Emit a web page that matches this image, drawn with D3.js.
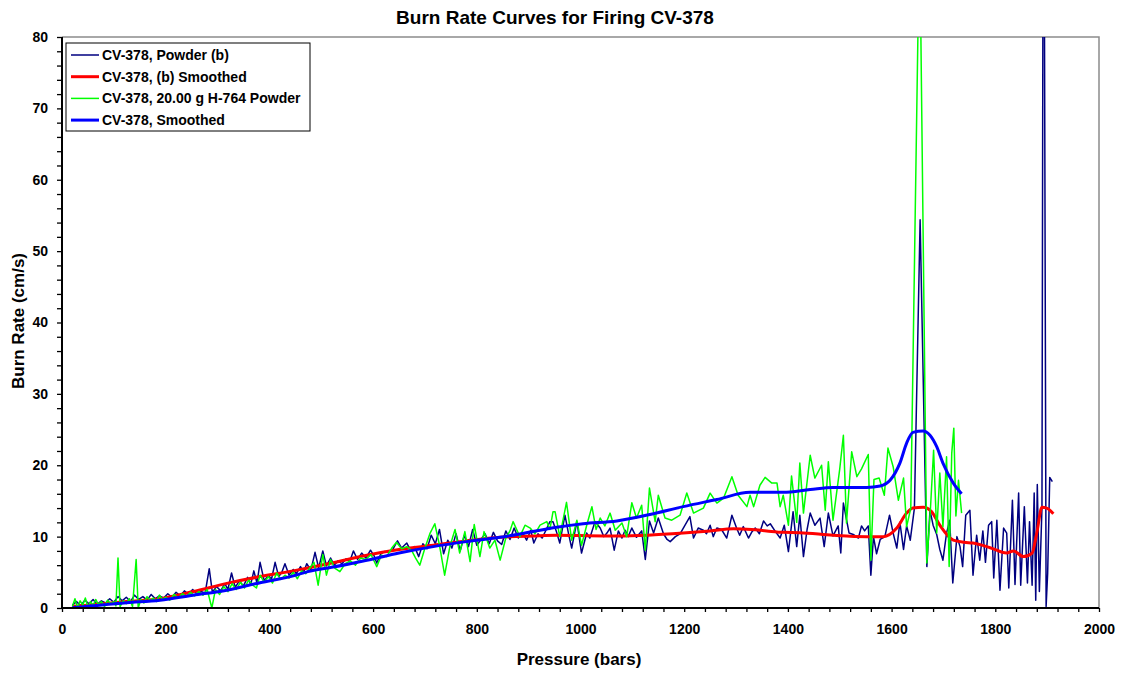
<!DOCTYPE html>
<html><head><meta charset="utf-8">
<script src="https://cdn.jsdelivr.net/npm/d3@7"></script>
<style>
body{margin:0;background:#fff;}
text{font-family:"Liberation Sans",Arial,sans-serif;font-weight:bold;}
</style></head><body>
<svg id="c" width="1126" height="673"></svg>
<script>
const title = "Burn Rate Curves for Firing CV-378";
const xLabel = "Pressure (bars)";
const yLabel = "Burn Rate (cm/s)";
const xTicks = [0,200,400,600,800,1000,1200,1400,1600,1800,2000];
const yTicks = [0,10,20,30,40,50,60,70,80];
const seriesNames = ["CV-378, Powder (b)","CV-378, (b) Smoothed","CV-378, 20.00 g H-764 Powder","CV-378, Smoothed"];

const powderB = [[20,0.4],[28,0.9],[36,0.3],[44,1.1],[52,0.6],[60,1.2],[68,0.5],[76,1.0],[84,0.7],[92,1.3],[100,0.8],[108,1.6],[116,1.0],[124,1.5],[132,0.9],[140,1.8],[148,1.2],[156,1.6],[164,1.1],[172,1.9],[180,1.3],[188,1.7],[196,1.4],[204,2.0],[212,1.5],[220,2.2],[228,1.7],[236,2.4],[244,1.9],[252,2.6],[260,2.0],[268,2.3],[276,2.1],[284,5.5],[290,2.2],[298,3.0],[306,2.4],[314,3.4],[320,2.6],[327,4.9],[334,2.9],[342,3.8],[350,3.1],[358,4.3],[364,3.3],[370,5.2],[376,3.5],[382,6.4],[390,3.8],[398,4.6],[404,4.0],[411,6.4],[418,4.4],[424,5.0],[430,6.2],[438,4.6],[446,5.4],[452,4.8],[460,5.8],[466,5.0],[472,6.2],[480,5.3],[488,7.8],[495,5.6],[503,8.0],[510,5.9],[518,7.0],[525,6.0],[532,6.6],[540,6.2],[548,6.9],[555,6.5],[562,8.0],[570,6.8],[578,7.7],[586,7.0],[595,8.1],[602,7.3],[607,6.3],[615,7.6],[622,7.9],[630,7.8],[638,8.2],[647,9.4],[655,8.4],[665,9.1],[672,8.1],[680,8.6],[688,7.2],[696,9.0],[704,8.3],[712,10.2],[720,9.0],[728,11.0],[736,7.6],[744,9.5],[752,8.4],[760,10.4],[768,8.0],[776,10.2],[784,8.6],[792,11.0],[800,8.8],[808,9.6],[816,10.4],[824,9.0],[832,10.6],[840,9.4],[848,8.9],[856,10.8],[864,9.6],[872,11.2],[880,9.8],[888,10.6],[896,9.5],[904,10.9],[910,9.1],[918,10.4],[926,9.8],[934,11.0],[941,12.1],[947,12.1],[954,10.6],[960,9.1],[970,13.0],[977,10.4],[983,8.4],[993,12.1],[1002,7.7],[1012,10.5],[1018,9.8],[1028,12.1],[1038,11.2],[1045,10.0],[1051,10.5],[1057,11.2],[1065,8.1],[1073,10.8],[1080,9.8],[1086,10.9],[1092,10.0],[1099,11.2],[1108,9.9],[1118,10.8],[1125,6.8],[1133,12.2],[1141,10.5],[1150,12.6],[1160,10.4],[1167,9.6],[1173,9.3],[1183,10.0],[1192,10.4],[1200,11.4],[1211,12.8],[1218,9.8],[1227,11.2],[1237,10.9],[1243,10.4],[1250,11.6],[1256,10.0],[1263,11.2],[1272,11.0],[1282,9.8],[1292,13.0],[1301,11.2],[1307,10.2],[1314,11.4],[1324,9.8],[1330,10.6],[1337,11.2],[1345,10.4],[1353,12.2],[1360,11.5],[1366,11.8],[1375,10.8],[1385,9.8],[1393,11.6],[1401,7.9],[1410,13.5],[1417,8.6],[1423,13.0],[1430,7.2],[1437,11.0],[1443,13.3],[1452,11.6],[1462,12.6],[1470,8.6],[1478,13.3],[1487,10.1],[1497,11.5],[1502,7.7],[1507,14.7],[1518,10.5],[1526,10.3],[1536,9.8],[1542,11.5],[1548,10.8],[1555,11.5],[1560,4.6],[1565,10.0],[1571,7.6],[1578,9.6],[1587,10.0],[1596,13.0],[1603,10.5],[1610,8.4],[1616,12.0],[1623,8.2],[1629,11.5],[1636,9.5],[1644,14.0],[1655,54.4],[1668,5.8],[1674,13.7],[1680,11.6],[1687,10.3],[1693,8.2],[1699,6.7],[1706,10.5],[1712,12.3],[1718,3.5],[1726,10.0],[1732,8.6],[1737,5.8],[1743,13.0],[1751,13.7],[1757,4.6],[1764,10.2],[1770,6.7],[1776,10.8],[1781,6.4],[1787,11.6],[1793,12.1],[1797,4.2],[1803,12.3],[1809,2.5],[1816,11.2],[1822,10.5],[1826,2.8],[1833,15.1],[1838,3.3],[1845,16.1],[1849,3.2],[1856,14.2],[1862,3.5],[1866,12.1],[1871,3.2],[1875,16.1],[1878,1.1],[1881,17.3],[1885,2.3],[1890,14.0],[1893,130],[1898,0.2],[1901,4.9],[1905,18.3],[1910,17.7]];

const powderBSmoothed = [[20,0.2],[60,0.45],[125,0.9],[189,1.3],[253,2.3],[318,3.45],[382,4.4],[446,5.2],[474,5.6],[520,6.3],[588,7.4],[650,8.2],[716,8.8],[780,9.4],[845,9.9],[909,10.1],[954,10.2],[1000,10.15],[1070,10.1],[1130,10.2],[1198,10.5],[1250,10.8],[1295,11.1],[1330,11.0],[1359,10.8],[1391,10.6],[1423,10.55],[1487,10.2],[1552,10.0],[1584,10.0],[1610,11.2],[1629,13.3],[1641,14.0],[1661,14.1],[1677,13.5],[1693,11.6],[1719,9.5],[1740,9.2],[1757,9.1],[1790,8.45],[1822,7.7],[1835,8.0],[1854,7.2],[1871,7.7],[1880,10.5],[1890,14.1],[1899,14.0],[1912,13.2]];

const h764 = [[20,0.2],[25,1.3],[30,0.0],[35,1.0],[40,0.4],[45,1.4],[50,0.1],[55,0.9],[60,0.3],[65,1.2],[70,0.5],[76,0.9],[82,0.2],[88,1.1],[94,0.6],[100,0.9],[104,0.3],[108,7.0],[112,0.2],[118,1.0],[124,0.6],[130,1.3],[136,0.2],[143,6.8],[147,0.0],[152,1.2],[158,0.7],[164,1.6],[170,1.0],[176,1.4],[182,0.9],[188,1.8],[194,1.2],[200,1.5],[208,1.1],[216,1.9],[224,1.4],[232,2.0],[240,1.6],[248,2.2],[256,1.7],[264,2.3],[272,1.8],[280,2.6],[289,0.0],[296,2.6],[304,1.9],[312,3.0],[320,2.3],[328,3.4],[336,2.6],[344,3.6],[352,2.8],[360,3.9],[368,3.2],[375,2.8],[382,4.6],[390,3.6],[398,4.4],[406,3.5],[414,4.9],[422,4.0],[430,4.6],[438,4.2],[446,5.0],[454,4.1],[462,5.2],[470,4.8],[478,5.6],[486,6.4],[494,3.2],[503,7.5],[510,4.6],[518,6.8],[526,5.6],[536,5.1],[546,6.2],[556,6.6],[566,6.0],[576,7.0],[586,6.8],[596,7.5],[607,5.8],[616,7.4],[626,7.2],[636,8.4],[645,9.2],[655,8.3],[665,8.6],[674,8.1],[682,7.0],[690,6.0],[700,8.4],[710,10.5],[719,11.8],[728,8.8],[738,4.6],[748,8.6],[758,11.0],[767,7.7],[777,10.7],[787,6.5],[795,11.7],[806,7.2],[814,10.7],[825,8.4],[835,9.5],[845,6.7],[856,9.8],[864,10.8],[870,12.1],[883,10.0],[893,11.6],[903,11.2],[912,10.4],[922,11.6],[935,12.1],[941,11.0],[947,13.5],[951,13.5],[960,10.0],[973,14.8],[983,9.5],[993,12.3],[1002,8.8],[1012,11.6],[1022,14.2],[1030,11.0],[1038,12.6],[1047,11.5],[1057,13.3],[1067,10.9],[1080,11.9],[1089,10.0],[1099,14.75],[1108,12.6],[1118,14.4],[1125,8.1],[1133,16.8],[1144,12.1],[1150,15.8],[1163,12.6],[1176,12.3],[1192,13.0],[1205,16.1],[1218,13.3],[1237,14.0],[1250,16.1],[1263,14.7],[1276,15.4],[1292,18.4],[1304,15.8],[1321,14.2],[1327,15.8],[1334,14.2],[1346,17.2],[1356,18.3],[1369,17.5],[1379,17.5],[1385,14.2],[1391,15.8],[1401,11.6],[1407,18.5],[1417,12.0],[1423,20.3],[1430,13.3],[1443,21.4],[1452,18.2],[1465,20.0],[1472,13.7],[1478,20.5],[1487,12.3],[1500,19.5],[1507,24.2],[1513,11.9],[1523,21.9],[1533,18.4],[1542,19.5],[1555,21.5],[1560,6.7],[1566,18.0],[1576,18.2],[1586,15.8],[1593,22.4],[1603,19.8],[1613,15.1],[1623,18.2],[1629,11.4],[1637,14.0],[1654,96],[1668,6.3],[1675,14.0],[1681,22.1],[1687,10.5],[1693,18.9],[1699,11.4],[1706,21.2],[1711,5.8],[1716,21.7],[1720,25.2],[1724,12.9],[1729,17.9],[1735,13.3]];

const h764Smoothed = [[20,0.05],[125,0.75],[189,1.1],[253,1.8],[318,2.5],[382,3.55],[446,4.5],[474,5.1],[520,5.7],[588,6.7],[650,7.7],[716,8.6],[780,9.3],[845,9.9],[900,10.6],[954,11.3],[1005,11.8],[1070,12.2],[1134,13.1],[1198,14.2],[1263,15.2],[1327,16.2],[1391,16.2],[1443,16.6],[1487,16.9],[1552,16.9],[1578,17.1],[1597,17.9],[1616,20.3],[1629,23.1],[1641,24.6],[1661,24.8],[1674,24.2],[1687,22.6],[1699,20.3],[1719,17.5],[1735,16.0]];

const colors = ["#000080","#ff0000","#00ff00","#0000ff"];
const widths = [1.5,3,1.5,3];

const svg = d3.select("#c");
const L=62,R=1099,T=37,B=608;
const x = d3.scaleLinear().domain([0,2000]).range([L,R]);
const y = d3.scaleLinear().domain([0,80]).range([B,T]);

svg.append("defs").append("clipPath").attr("id","clip")
  .append("rect").attr("x",L).attr("y",T).attr("width",R-L).attr("height",B-T);

svg.append("path").attr("d",`M${L},${T}H${R}V${B}`).attr("fill","none").attr("stroke","#8c8c8c").attr("stroke-width",1.5);

const g = svg.append("g").attr("clip-path","url(#clip)");
const lin = d3.line().x(d=>x(d[0])).y(d=>y(d[1]));
const smooth = d3.line().x(d=>x(d[0])).y(d=>y(d[1])).curve(d3.curveMonotoneX);
const data = [powderB, powderBSmoothed, h764, h764Smoothed];
data.forEach((d,i)=>{
  g.append("path").datum(d).attr("d", (i%2? smooth: lin))
   .attr("fill","none").attr("stroke",colors[i]).attr("stroke-width",widths[i])
   .attr("stroke-linejoin","round");
});

const xAxis = d3.axisBottom(x).tickValues(d3.range(0,2001,40)).tickSize(4).tickFormat(d=> xTicks.includes(d)? d : "");
const gx = svg.append("g").attr("transform",`translate(0,${B})`).call(xAxis);
gx.selectAll(".tick line").attr("stroke","#000").attr("stroke-width",1.3);
gx.selectAll(".tick text").attr("font-size",14).attr("dy","1.35em").attr("fill","#000");

const yAxis = d3.axisLeft(y).tickValues(d3.range(0,81,2)).tickSize(5).tickFormat(d=> yTicks.includes(d)? d : "");
const gy = svg.append("g").attr("transform",`translate(${L},0)`).call(yAxis);
gy.selectAll(".tick line").attr("stroke","#000").attr("stroke-width",1.3);
gy.selectAll(".tick text").attr("font-size",14).attr("x",-14).attr("fill","#000");

gx.select(".domain").remove(); gy.select(".domain").remove();
svg.append("line").attr("x1",L).attr("x2",R).attr("y1",B).attr("y2",B).attr("stroke","#000").attr("stroke-width",2);
svg.append("line").attr("x1",L).attr("x2",L).attr("y1",T).attr("y2",B).attr("stroke","#000").attr("stroke-width",2);

svg.append("text").attr("x",555).attr("y",24).attr("text-anchor","middle").attr("font-size",19).text(title);
svg.append("text").attr("x",579).attr("y",665).attr("text-anchor","middle").attr("font-size",17).text(xLabel);
svg.append("text").attr("transform",`translate(24,321) rotate(-90)`).attr("text-anchor","middle").attr("font-size",17).text(yLabel);

const lg = svg.append("g");
lg.append("rect").attr("x",66).attr("y",43).attr("width",244).attr("height",88).attr("fill","#fff").attr("stroke","#000").attr("stroke-width",1);
seriesNames.forEach((n,i)=>{
  const cy = 55 + i*21.7;
  lg.append("line").attr("x1",71).attr("x2",99).attr("y1",cy).attr("y2",cy).attr("stroke",colors[i]).attr("stroke-width",widths[i]);
  lg.append("text").attr("x",102).attr("y",cy+5).attr("font-size",14).text(n);
});
</script></body></html>
